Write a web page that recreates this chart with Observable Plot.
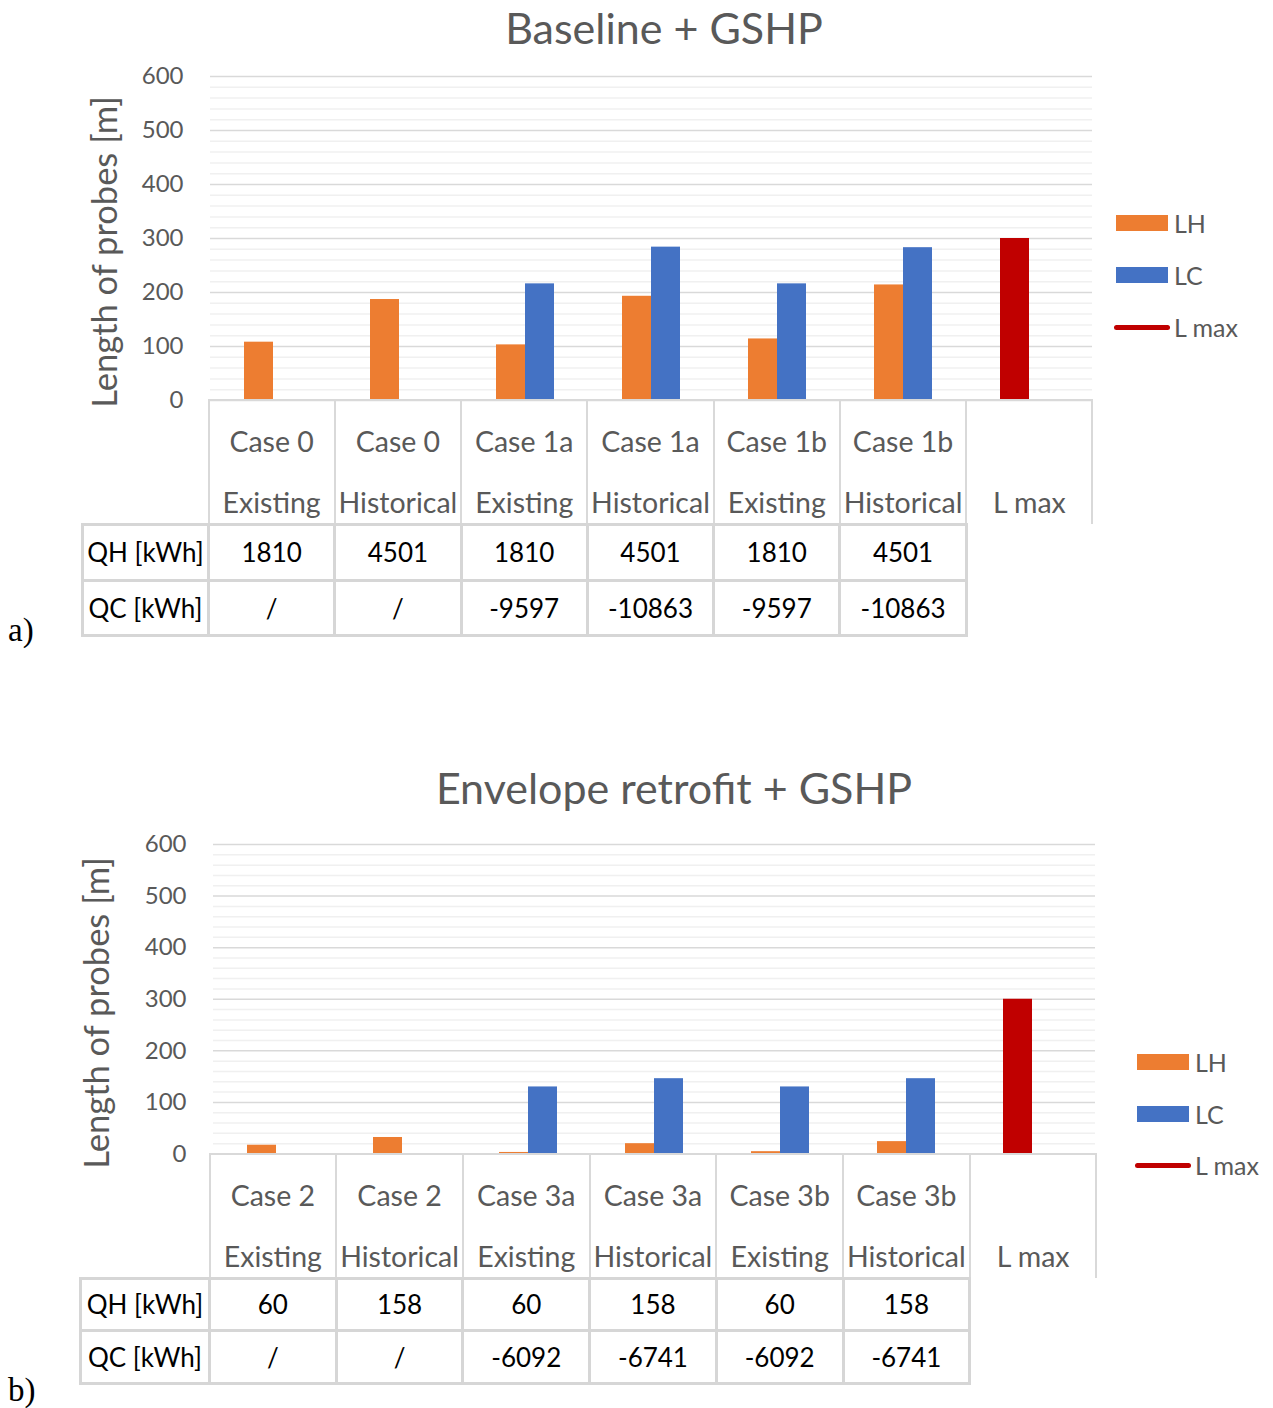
<!DOCTYPE html>
<html>
<head>
<meta charset="utf-8">
<script src="https://cdn.jsdelivr.net/npm/d3@7"></script>
<script src="https://cdn.jsdelivr.net/npm/@observablehq/plot@0.6"></script>
<style>
  body { margin: 0; background: #fff; font-family: Lato, "Open Sans", sans-serif; }
  #page { position: relative; width: 1273px; height: 1408px; overflow: hidden; background: #fff; }
  .abs { position: absolute; }
  .title { color: #595959; font-size: 43px; white-space: nowrap; transform: translate(-50%, -50%); line-height: 1; }
  .ytitle { color: #595959; font-size: 34.5px; white-space: nowrap; transform: translate(-50%, -50%) rotate(-90deg); line-height: 1; }
  .panel { font-family: "Liberation Serif", "Times New Roman", serif; font-size: 33px; color: #000; line-height: 1; transform: translateY(-50%); }
  .legtext { color: #595959; font-size: 25px; line-height: 30px; height: 30px; white-space: nowrap; }
  table.grid { border-collapse: collapse; table-layout: fixed; position: absolute; }
  table.grid td { padding: 0; text-align: center; white-space: nowrap; }
  td.cat { border-left: 2px solid #d9d9d9; border-right: 2px solid #d9d9d9; border-top: 2px solid #d9d9d9; border-bottom: none; vertical-align: top; color: #595959; font-size: 28.5px; }
  td.cat div.wrap { height: 112px; padding-top: 10px; overflow: visible; }
  td.cat div.line { height: 61px; line-height: 61px; }
  td.val { border: 3px solid #d6d6d6; color: #000; font-size: 26px; vertical-align: middle; }
  td.blank { border: none; }
</style>
</head>
<body>
<div id="page"></div>
<script>
// ---- Panel a) Baseline + GSHP ----
const casesA    = ["Case 0", "Case 0", "Case 1a", "Case 1a", "Case 1b", "Case 1b", ""];
const variantsA = ["Existing", "Historical", "Existing", "Historical", "Existing", "Historical", "L max"];
const lhA   = [108, 187, 103, 193, 114, 214, null];
const lcA   = [null, null, 216, 284, 216, 283, null];
const lmaxA = [null, null, null, null, null, null, 300];
const qhA   = ["1810", "4501", "1810", "4501", "1810", "4501"];
const qcA   = ["/", "/", "-9597", "-10863", "-9597", "-10863"];

// ---- Panel b) Envelope retrofit + GSHP ----
const casesB    = ["Case 2", "Case 2", "Case 3a", "Case 3a", "Case 3b", "Case 3b", ""];
const variantsB = ["Existing", "Historical", "Existing", "Historical", "Existing", "Historical", "L max"];
const lhB   = [17, 32, 3, 20, 4.5, 24, null];
const lcB   = [null, null, 130, 146, 130, 146, null];
const lmaxB = [null, null, null, null, null, null, 300];
const qhB   = ["60", "158", "60", "158", "60", "158"];
const qcB   = ["/", "/", "-6092", "-6741", "-6092", "-6741"];

// shared axis / legend definitions
const yTicks = [0, 100, 200, 300, 400, 500, 600];
const yMinorTicks = d3.range(0, 601, 20).filter(v => v % 100 !== 0);
const seriesNames = ["LH", "LC", "L max"];
const seriesColors = ["#ED7D31", "#4472C4", "#C00000"];
const rowHeaders = ["QH [kWh]", "QC [kWh]"];

const page = document.getElementById("page");

function el(tag, cls, style, text) {
  const e = document.createElement(tag);
  if (cls) e.className = cls;
  if (style) Object.assign(e.style, style);
  if (text != null) e.textContent = text;
  return e;
}

function drawPanel(p) {
  const {cases, variants, lh, lc, lmax, qh, qc, g} = p;
  const keys = cases.map((c, i) => `${c}|${variants[i]}`);

  // long-format rows for the clustered bars; L max takes the first slot of its group
  const rows = [];
  keys.forEach((k, i) => {
    if (lh[i] != null) rows.push({key: k, slot: "LH", series: "LH", value: lh[i]});
    if (lc[i] != null) rows.push({key: k, slot: "LC", series: "LC", value: lc[i]});
    if (lmax[i] != null) rows.push({key: k, slot: "LH", series: "L max", value: lmax[i]});
  });

  const step = (g.right - g.left) / keys.length;
  const outer = (step / g.barWidth - 2) / 2;

  const chart = Plot.plot({
    width: 1273,
    height: g.mt + (g.y0 - g.y600) + 1,
    marginTop: g.mt,
    marginBottom: 1,
    marginLeft: g.left,
    marginRight: 1273 - g.right,
    style: {fontFamily: "Lato, sans-serif", fontSize: "24px", color: "#595959", background: "transparent", overflow: "visible"},
    fx: {domain: keys, padding: 0, axis: null},
    x: {domain: ["LH", "LC"], paddingInner: 0, paddingOuter: outer, axis: null},
    y: {domain: [0, 600], ticks: yTicks, tickSize: 0, tickPadding: 27, label: null},
    color: {domain: seriesNames, range: seriesColors},
    marks: [
      Plot.ruleY(yMinorTicks, {stroke: "#f0f0f0", strokeWidth: 1.5}),
      Plot.ruleY(yTicks, {stroke: "#d9d9d9", strokeWidth: 1.5}),
      Plot.barY(rows, {fx: "key", x: "slot", y: "value", fill: "series"})
    ]
  });
  chart.classList.add("abs");
  chart.style.left = "0px";
  chart.style.top = (g.y600 - g.mt) + "px";
  page.appendChild(chart);

  // title and y-axis title
  page.appendChild(el("div", "abs title", {left: g.titleX + "px", top: g.titleY + "px"}, p.title));
  page.appendChild(el("div", "abs ytitle", {left: g.yTitleX + "px", top: ((g.y0 + g.y600) / 2 + 14) + "px"}, "Length of probes [m]"));

  // category labels + data table underneath the plot
  // (collapsed borders sit half outside the cells, hence the 2px shift)
  const hdrW = g.left - g.tableLeft;
  const table = el("table", "grid", {left: (g.tableLeft - 2) + "px", top: (g.y0 - 1) + "px", width: (hdrW + step * keys.length) + "px"});
  const cg = document.createElement("colgroup");
  cg.appendChild(el("col", null, {width: hdrW + "px"}));
  keys.forEach(() => cg.appendChild(el("col", null, {width: step + "px"})));
  table.appendChild(cg);

  const trCat = el("tr", null, {height: g.catH + "px"});
  trCat.appendChild(el("td", "blank"));
  keys.forEach((k, i) => {
    const td = el("td", "cat");
    const wrap = el("div", "wrap");
    wrap.appendChild(el("div", "line", null, cases[i]));
    wrap.appendChild(el("div", "line", null, variants[i]));
    td.appendChild(wrap);
    trCat.appendChild(td);
  });
  table.appendChild(trCat);

  [qh, qc].forEach((vals, r) => {
    const tr = el("tr", null, {height: g.rowH[r] + "px"});
    tr.appendChild(el("td", "val", null, rowHeaders[r]));
    keys.forEach((k, i) => {
      if (i < vals.length) tr.appendChild(el("td", "val", null, vals[i]));
      else tr.appendChild(el("td", "blank"));
    });
    table.appendChild(tr);
  });
  page.appendChild(table);

  // legend
  seriesNames.forEach((name, i) => {
    const cy = g.legY + i * g.legStep;
    if (name === "L max") {
      page.appendChild(el("div", "abs", {left: (g.legX - 2) + "px", top: (cy - 2.5) + "px", width: "56px", height: "5px", borderRadius: "3px", background: seriesColors[i]}));
    } else {
      page.appendChild(el("div", "abs", {left: g.legX + "px", top: (cy - 8) + "px", width: "52px", height: "16px", background: seriesColors[i]}));
    }
    page.appendChild(el("div", "abs legtext", {left: (g.legX + 58) + "px", top: (cy - 15) + "px"}, name));
  });

  // panel letter
  page.appendChild(el("div", "abs panel", {left: "8px", top: g.letterY + "px"}, p.letter));
}

drawPanel({
  title: "Baseline + GSHP", letter: "a)",
  cases: casesA, variants: variantsA, lh: lhA, lc: lcA, lmax: lmaxA, qh: qhA, qc: qcA,
  g: {left: 209, right: 1093, y600: 75.5, y0: 399.5, mt: 20, barWidth: 30,
      titleX: 664, titleY: 26.5, yTitleX: 104,
      tableLeft: 83, catH: 122, rowH: [56, 55],
      legX: 1116, legY: 223, legStep: 52, letterY: 630}
});

drawPanel({
  title: "Envelope retrofit + GSHP", letter: "b)",
  cases: casesB, variants: variantsB, lh: lhB, lc: lcB, lmax: lmaxB, qh: qhB, qc: qcB,
  g: {left: 210, right: 1097, y600: 844, y0: 1153.5, mt: 20, barWidth: 30,
      titleX: 674, titleY: 787, yTitleX: 96,
      tableLeft: 81, catH: 122, rowH: [52, 53],
      legX: 1137, legY: 1062, legStep: 51.5, letterY: 1390}
});
</script>
</body>
</html>
